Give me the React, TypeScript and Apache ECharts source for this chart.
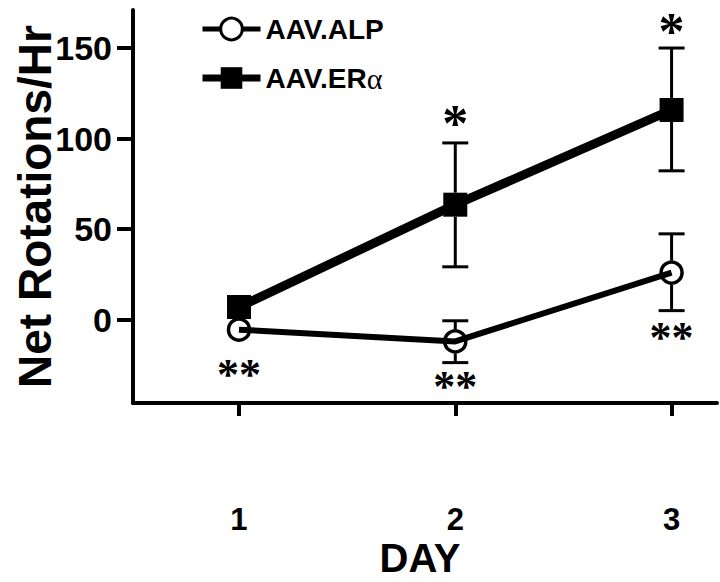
import React, { useEffect, useRef } from "react";
import * as echarts from "echarts";

const days = [1, 2, 3];
const xTicks = [1, 2, 3];
const yTicks = [0, 50, 100, 150];
const alpMean = [-5.5, -12, 26];
const alpLow = [-8, -23.7, 5];
const alpHigh = [-3, -0.6, 47.4];
const eraMean = [7, 63.5, 115.8];
const eraLow = [4, 29.2, 82.2];
const eraHigh = [10, 97.6, 150];
const eraStarDays = [2, 3];
const eraStarValues = [113, 164];
const alpStarDays = [1, 2, 3];
const alpStarValues = [-26, -33, -5.5];

const SANS = "'Liberation Sans', Arial, Helvetica, sans-serif";
const SERIF = "'Liberation Serif', 'Times New Roman', serif";

function errorBars(name: string, mean: number[], low: number[], high: number[], gap: number) {
  return {
    type: "custom",
    name: name + " err",
    z: 1,
    silent: true,
    data: days.map((d, i) => [d, low[i], high[i], mean[i]]),
    renderItem: (params: any, api: any) => {
      const x = api.value(0);
      const pm = api.coord([x, api.value(3)]);
      const pl = api.coord([x, api.value(1)]);
      const ph = api.coord([x, api.value(2)]);
      const cap = 13;
      const st = { stroke: "#000", lineWidth: 3 };
      const children: any[] = [];
      if (ph[1] < pm[1] - gap) {
        children.push({ type: "line", shape: { x1: pm[0], y1: pm[1] - gap, x2: ph[0], y2: ph[1] }, style: st });
        children.push({ type: "line", shape: { x1: ph[0] - cap, y1: ph[1], x2: ph[0] + cap, y2: ph[1] }, style: st });
      }
      if (pl[1] > pm[1] + gap) {
        children.push({ type: "line", shape: { x1: pm[0], y1: pm[1] + gap, x2: pl[0], y2: pl[1] }, style: st });
        children.push({ type: "line", shape: { x1: pl[0] - cap, y1: pl[1], x2: pl[0] + cap, y2: pl[1] }, style: st });
      }
      return { type: "group", children };
    },
  };
}

function stars(ds: number[], vs: number[], text: string, size: number) {
  return {
    type: "custom",
    silent: true,
    z: 5,
    data: ds.map((d, i) => [d, vs[i]]),
    renderItem: (params: any, api: any) => {
      const p = api.coord([api.value(0), api.value(1)]);
      return {
        type: "text",
        x: p[0],
        y: p[1] + size * 0.17,
        style: {
          text,
          fontFamily: SERIF,
          fontWeight: "bold",
          fontSize: size,
          lineHeight: Math.round(size * 0.5),
          fill: "#000",
          align: "center",
          verticalAlign: "middle",
        },
      };
    },
  };
}

export default function App() {
  const ref = useRef<HTMLDivElement>(null);
  useEffect(() => {
    if (!ref.current) return;
    const chart = echarts.init(ref.current, null, { renderer: "svg" });
    chart.setOption({
      animation: false,
      backgroundColor: "#fff",
      grid: { left: 133, right: 3, top: 10, bottom: 179, containLabel: false, outerBoundsMode: "none" },
      legend: {
        orient: "vertical",
        left: 194,
        top: 10,
        itemGap: 20,
        itemWidth: 58,
        itemHeight: 27,
        data: [
          { name: "AAV.ALP", lineStyle: { width: 5, color: "#000" }, itemStyle: { color: "#fff", borderColor: "#000", borderWidth: 3 } },
          { name: "AAV.ERα", lineStyle: { width: 7, color: "#000" }, itemStyle: { color: "#000", borderColor: "#000", borderWidth: 0 } },
        ],
        textStyle: {
          fontFamily: SANS,
          fontWeight: "bold",
          fontSize: 28,
          color: "#000",
          rich: { a: { fontFamily: SERIF, fontSize: 30, fontWeight: "normal", color: "#000" } },
        },
        formatter: (n: string) => (n === "AAV.ERα" ? "AAV.ER{a|α}" : n),
      },
      xAxis: {
        type: "value",
        min: 0.51,
        max: 3.21,
        name: "DAY",
        nameLocation: "middle",
        nameGap: 139,
        nameMoveOverlap: false,
        nameTextStyle: { fontFamily: SANS, fontWeight: "bold", fontSize: 40, color: "#000", lineHeight: 32, padding: [0, 10, 0, 0] },
        axisLine: { onZero: false, lineStyle: { color: "#000", width: 4 } },
        axisTick: { show: true, customValues: xTicks, length: 13, lineStyle: { color: "#000", width: 4 } },
        axisLabel: { customValues: xTicks, margin: 101, fontFamily: SANS, fontWeight: "bold", fontSize: 31, color: "#000" },
        splitLine: { show: false },
      },
      yAxis: {
        type: "value",
        min: -46,
        max: 171,
        name: "Net Rotations/Hr",
        nameLocation: "middle",
        nameGap: 77,
        nameMoveOverlap: false,
        nameTextStyle: { fontFamily: SANS, fontWeight: "bold", fontSize: 46, color: "#000", lineHeight: 42 },
        axisLine: { lineStyle: { color: "#000", width: 4 } },
        axisTick: { show: true, customValues: yTicks, length: 16, lineStyle: { color: "#000", width: 4 } },
        axisLabel: { customValues: yTicks, margin: 21, fontFamily: SANS, fontWeight: "bold", fontSize: 34, color: "#000" },
        splitLine: { show: false },
      },
      series: [
        errorBars("AAV.ALP", alpMean, alpLow, alpHigh, 12),
        errorBars("AAV.ERα", eraMean, eraLow, eraHigh, 12),
        {
          type: "line",
          name: "AAV.ALP",
          z: 3,
          data: days.map((d, i) => [d, alpMean[i]]),
          symbol: "circle",
          symbolSize: 21,
          lineStyle: { color: "#000", width: 6 },
          itemStyle: { color: "rgba(255,255,255,0)", borderColor: "#000", borderWidth: 3.5 },
        },
        {
          type: "line",
          name: "AAV.ERα",
          z: 4,
          data: days.map((d, i) => [d, eraMean[i]]),
          symbol: "rect",
          symbolSize: 24,
          lineStyle: { color: "#000", width: 9 },
          itemStyle: { color: "#000", borderColor: "#000", borderWidth: 0 },
        },
        stars(eraStarDays, eraStarValues, "*", 52),
        stars(alpStarDays, alpStarValues, "**", 44),
      ],
    });
    return () => chart.dispose();
  }, []);
  return <div ref={ref} style={{ width: 720, height: 582, position: "absolute", left: 0, top: 0 }} />;
}
